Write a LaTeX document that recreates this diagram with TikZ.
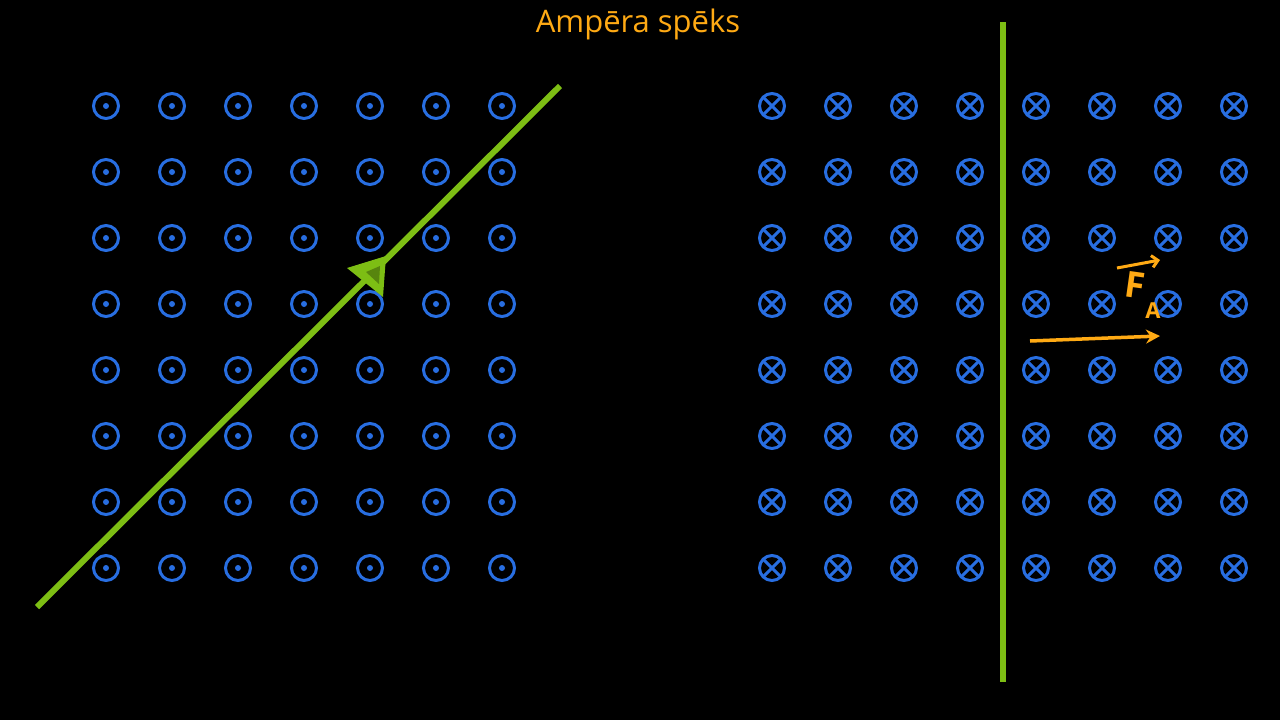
\documentclass[tikz,border=0pt]{standalone}
\usepackage{fontspec}
\setmainfont{Open Sans}
\usetikzlibrary{arrows.meta,calc}
\definecolor{fb}{RGB}{40,110,225}
\definecolor{wg}{RGB}{125,190,20}
\definecolor{or}{RGB}{255,170,20}
\begin{document}
\begin{tikzpicture}[x=1pt,y=-1pt,
  ring/.style={draw=fb,line width=3pt,circle,minimum size=25pt,inner sep=0pt},
  wire/.style={draw=wg,line width=6pt},
  force/.style={draw=or,line width=3.5pt}]
\fill[black] (0,0) rectangle (1280,720);
\useasboundingbox (0,0) rectangle (1280,720);
\node[text=or,font=\fontsize{31}{34}\selectfont] (title) at (638,24) {Ampēra spēks};
\foreach \i in {0,...,6}\foreach \j in {0,...,7}{
  \node[ring] (o\i\j) at (106+66*\i,106+66*\j) {};
  \fill[fb] (o\i\j) circle (3pt);}
\foreach \i in {0,...,7}\foreach \j in {0,...,7}{
  \node[ring] (x\i\j) at (772+66*\i,106+66*\j) {};
  \draw[fb,line width=3pt] ($(x\i\j)+(-8.5,-8.5)$) -- ($(x\i\j)+(8.5,8.5)$) ($(x\i\j)+(8.5,-8.5)$) -- ($(x\i\j)+(-8.5,8.5)$);}
\coordinate (a1) at (37,607); \coordinate (a2) at (560,86);
\draw[wire] (a1) -- (a2);
\fill[wg] (347,268) -- (386,256) -- (383,297) -- cycle;
\fill[wg!70!black] (366,272) -- (380,266) -- (379,284) -- cycle;
\coordinate (b1) at (1003,22); \coordinate (b2) at (1003,682);
\draw[wire] (b1) -- (b2);
\coordinate (f1) at (1030,341); \coordinate (f2) at (1160,336);
\draw[force,-{Stealth[length=14pt,width=14pt]}] (f1) -- (f2);
\node[text=or,font=\bfseries\fontsize{36}{36}\selectfont,rotate=-8,inner sep=0pt] (F) at (1135,285) {F};
\node[text=or,font=\bfseries\fontsize{22}{22}\selectfont,inner sep=0pt] (A) at (1153,311) {A};
\draw[or,line width=3pt,-{Straight Barb[length=6pt]}] (1117,268) -- (1160,260);
\end{tikzpicture}
\end{document}
